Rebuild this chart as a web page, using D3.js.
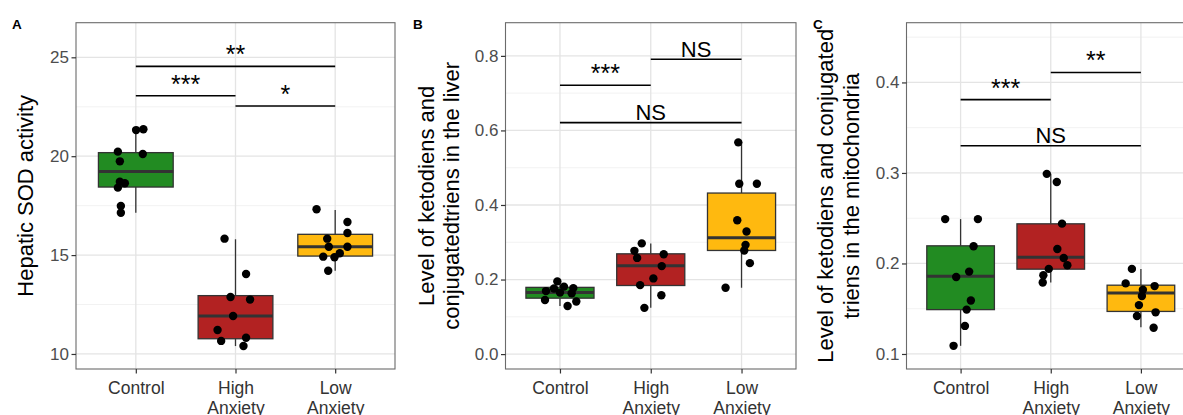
<!DOCTYPE html>
<html>
<head>
<meta charset="utf-8">
<script src="https://cdn.jsdelivr.net/npm/d3@7"></script>
<style>
body { margin: 0; background: #fff; }
text { font-family: "Liberation Sans", Arial, sans-serif; }
</style>
</head>
<body>
<svg id="chart" width="1183" height="415"></svg>
<script>
var groups = ["Control", "High Anxiety", "Low Anxiety"];
var groupFill = ["#228B22", "#B22222", "#FFB90F"];

// A - hepatic SOD activity
var sodPoints = [
  [21.32, 21.36, 20.23, 20.11, 19.74, 18.71, 18.63, 18.41, 17.48, 17.14],
  [15.83, 14.04, 12.88, 12.75, 11.92, 11.21, 10.66, 10.82, 10.40],
  [17.32, 16.67, 16.12, 15.83, 15.42, 15.42, 14.92, 14.89, 15.09, 14.21]
];
var sodJitter = [
  [0.003, 0.076, -0.18, 0.07, -0.16, -0.16, -0.11, -0.18, -0.15, -0.15],
  [-0.11, 0.106, -0.05, 0.146, -0.024, -0.18, -0.144, 0.106, 0.08],
  [-0.187, 0.123, 0.123, -0.08, -0.064, 0.123, -0.12, -0.007, 0.046, -0.07]
];
// whisker low, q1, median, q3, whisker high
var sodBoxes = [
  [17.14, 18.44, 19.22, 20.18, 21.36],
  [10.40, 10.77, 11.92, 12.95, 15.80],
  [14.21, 14.95, 15.42, 16.05, 17.28]
];
var sodTicks = [10, 15, 20, 25];
var sodSig = [
  ["Control", "Low Anxiety", 24.54, "**"],
  ["Control", "High Anxiety", 23.06, "***"],
  ["High Anxiety", "Low Anxiety", 22.54, "*"]
];

// B - ketodiens / conjugated triens, liver
var liverPoints = [
  [0.195, 0.169, 0.176, 0.181, 0.177, 0.165, 0.163, 0.145, 0.141, 0.129],
  [0.297, 0.277, 0.258, 0.268, 0.236, 0.203, 0.185, 0.158, 0.124],
  [0.568, 0.457, 0.457, 0.359, 0.329, 0.293, 0.278, 0.244, 0.178]
];
var liverJitter = [
  [-0.029, -0.154, -0.066, 0.044, 0.147, 0.0, 0.129, -0.165, 0.18, 0.084],
  [-0.099, -0.18, -0.15, 0.143, 0.121, 0.029, -0.117, 0.117, -0.07],
  [-0.036, -0.025, 0.169, -0.047, 0.055, 0.044, 0.03, 0.092, -0.176]
];
var liverBoxes = [
  [0.129, 0.150, 0.165, 0.179, 0.195],
  [0.124, 0.184, 0.237, 0.269, 0.297],
  [0.178, 0.278, 0.312, 0.432, 0.568]
];
var liverTicks = [0.0, 0.2, 0.4, 0.6, 0.8];
var liverSig = [
  ["Control", "High Anxiety", 0.721, "***"],
  ["High Anxiety", "Low Anxiety", 0.791, "NS"],
  ["Control", "Low Anxiety", 0.621, "NS"]
];

// C - ketodiens / conjugated triens, mitochondria
var mitoPoints = [
  [0.249, 0.249, 0.219, 0.191, 0.185, 0.159, 0.149, 0.131, 0.109],
  [0.299, 0.290, 0.244, 0.216, 0.206, 0.198, 0.194, 0.187, 0.179],
  [0.194, 0.178, 0.175, 0.171, 0.164, 0.154, 0.146, 0.142, 0.129]
];
var mitoJitter = [
  [-0.171, 0.192, 0.144, 0.095, -0.049, 0.114, 0.067, 0.048, -0.078],
  [-0.044, 0.067, 0.125, 0.073, 0.144, 0.184, -0.022, -0.082, -0.089],
  [-0.1, -0.169, 0.152, 0.022, 0.011, -0.022, 0.163, -0.044, 0.141]
];
var mitoBoxes = [
  [0.109, 0.149, 0.186, 0.2195, 0.249],
  [0.179, 0.1937, 0.207, 0.2438, 0.299],
  [0.1295, 0.147, 0.1675, 0.176, 0.194]
];
var mitoTicks = [0.1, 0.2, 0.3, 0.4];
var mitoSig = [
  ["Control", "High Anxiety", 0.381, "***"],
  ["High Anxiety", "Low Anxiety", 0.411, "**"],
  ["Control", "Low Anxiety", 0.330, "NS"]
];

var plotTop = 22.7, plotBottom = 369;

var panels = [
  {letter: "A", letterX: 12, left: 76, right: 395, domain: [9.24, 26.75],
   ticks: sodTicks, fmt: d3.format("d"), points: sodPoints, jitter: sodJitter,
   boxes: sodBoxes, sig: sodSig, title: ["Hepatic SOD activity"], titleX: [33]},
  {letter: "B", letterX: 413, left: 505.5, right: 796, domain: [-0.04, 0.889],
   ticks: liverTicks, fmt: d3.format(".1f"), points: liverPoints, jitter: liverJitter,
   boxes: liverBoxes, sig: liverSig,
   title: ["Level of ketodiens and", "conjugatedtriens in the liver"], titleX: [434, 459]},
  {letter: "C", letterX: 813, left: 906.5, right: 1195, domain: [0.0834, 0.466],
   ticks: mitoTicks, fmt: d3.format(".1f"), points: mitoPoints, jitter: mitoJitter,
   boxes: mitoBoxes, sig: mitoSig,
   title: ["Level of ketodiens and conjugated", "triens in the mitochondria"], titleX: [833, 859]}
];

var svg = d3.select("#chart");
svg.append("rect").attr("width", 1183).attr("height", 415).attr("fill", "#fff");

panels.forEach(drawPanel);

function drawPanel(p) {
  var x = d3.scalePoint().domain(groups).range([p.left, p.right]).padding(0.6);
  var step = x.step();
  var bw = step * 0.75;
  var y = d3.scaleLinear().domain(p.domain).range([plotBottom, plotTop]);
  var g = svg.append("g");

  g.append("text")
    .attr("x", p.letterX).attr("y", 29)
    .attr("font-size", 13.5).attr("font-weight", "bold")
    .text(p.letter);

  // grid
  var tickStep = p.ticks[1] - p.ticks[0];
  var minor = [];
  for (var i = -1; i < p.ticks.length; i++) {
    var m = p.ticks[0] + (i + 0.5) * tickStep;
    if (m > p.domain[0] && m < p.domain[1]) minor.push(m);
  }
  g.selectAll(".minor").data(minor).enter().append("line")
    .attr("x1", p.left).attr("x2", p.right)
    .attr("y1", function(d) { return y(d); }).attr("y2", function(d) { return y(d); })
    .attr("stroke", "#f1f1f1").attr("stroke-width", 0.9);
  g.selectAll(".major").data(p.ticks).enter().append("line")
    .attr("x1", p.left).attr("x2", p.right)
    .attr("y1", function(d) { return y(d); }).attr("y2", function(d) { return y(d); })
    .attr("stroke", "#e4e4e4").attr("stroke-width", 1.3);
  g.selectAll(".vgrid").data(groups).enter().append("line")
    .attr("x1", function(d) { return x(d); }).attr("x2", function(d) { return x(d); })
    .attr("y1", plotTop).attr("y2", plotBottom)
    .attr("stroke", "#e4e4e4").attr("stroke-width", 1.3);

  // whiskers
  p.boxes.forEach(function(b, i) {
    var cx = x(groups[i]);
    g.append("line").attr("x1", cx).attr("x2", cx)
      .attr("y1", y(b[3])).attr("y2", y(b[4]))
      .attr("stroke", "#333").attr("stroke-width", 1.3);
    g.append("line").attr("x1", cx).attr("x2", cx)
      .attr("y1", y(b[1])).attr("y2", y(b[0]))
      .attr("stroke", "#333").attr("stroke-width", 1.3);
  });

  // boxes
  g.selectAll(".box").data(p.boxes).enter().append("rect")
    .attr("x", function(d, i) { return x(groups[i]) - bw / 2; })
    .attr("y", function(d) { return y(d[3]); })
    .attr("width", bw)
    .attr("height", function(d) { return y(d[1]) - y(d[3]); })
    .attr("fill", function(d, i) { return groupFill[i]; })
    .attr("stroke", "#333").attr("stroke-width", 1.3);
  g.selectAll(".median").data(p.boxes).enter().append("line")
    .attr("x1", function(d, i) { return x(groups[i]) - bw / 2; })
    .attr("x2", function(d, i) { return x(groups[i]) + bw / 2; })
    .attr("y1", function(d) { return y(d[2]); })
    .attr("y2", function(d) { return y(d[2]); })
    .attr("stroke", "#333").attr("stroke-width", 3);

  // jittered points
  var pts = [];
  p.points.forEach(function(vals, i) {
    vals.forEach(function(v, j) {
      pts.push({g: groups[i], v: v, dx: p.jitter[i][j]});
    });
  });
  g.selectAll(".pt").data(pts).enter().append("circle")
    .attr("cx", function(d) { return x(d.g) + d.dx * step; })
    .attr("cy", function(d) { return y(d.v); })
    .attr("r", 4.2)
    .attr("fill", "#000");

  // significance brackets
  p.sig.forEach(function(s) {
    var x1 = x(s[0]), x2 = x(s[1]), yy = y(s[2]);
    g.append("line").attr("x1", x1).attr("x2", x2).attr("y1", yy).attr("y2", yy)
      .attr("stroke", "#000").attr("stroke-width", 1.6);
    var star = s[3] !== "NS";
    g.append("text")
      .attr("x", (x1 + x2) / 2).attr("y", yy - (star ? 3 : 2.5))
      .attr("text-anchor", "middle")
      .attr("font-size", star ? 25 : 22)
      .attr("fill", "#000")
      .text(s[3]);
  });

  // panel border
  g.append("rect")
    .attr("x", p.left).attr("y", plotTop)
    .attr("width", p.right - p.left).attr("height", plotBottom - plotTop)
    .attr("fill", "none").attr("stroke", "#6b6b6b").attr("stroke-width", 1.1);

  // axes
  var yAxis = g.append("g")
    .attr("transform", "translate(" + p.left + ",0)")
    .call(d3.axisLeft(y).tickValues(p.ticks).tickFormat(p.fmt).tickSize(4.5).tickPadding(2.5));
  yAxis.select(".domain").remove();
  yAxis.selectAll(".tick line").attr("stroke", "#333").attr("stroke-width", 1.2);
  yAxis.selectAll(".tick text")
    .attr("font-size", 17).attr("fill", "#4d4d4d")
    .attr("font-family", "Liberation Sans, Arial, sans-serif");

  var xAxis = g.append("g")
    .attr("transform", "translate(0," + plotBottom + ")")
    .call(d3.axisBottom(x).tickSize(4.5));
  xAxis.select(".domain").remove();
  xAxis.selectAll(".tick line").attr("stroke", "#333").attr("stroke-width", 1.2);
  xAxis.selectAll(".tick text").each(function(d) {
    var t = d3.select(this);
    t.text(null).attr("y", 25.3).attr("dy", null)
      .attr("font-size", 17.5).attr("fill", "#333")
      .attr("font-family", "Liberation Sans, Arial, sans-serif");
    d.split(" ").forEach(function(w, k) {
      t.append("tspan").attr("x", 0).attr("dy", k === 0 ? 0 : 20).text(w);
    });
  });

  // y title
  var cy = (plotTop + plotBottom) / 2;
  p.title.forEach(function(line, k) {
    g.append("text")
      .attr("transform", "translate(" + p.titleX[k] + "," + cy + ") rotate(-90)")
      .attr("text-anchor", "middle")
      .attr("font-size", 22)
      .attr("fill", "#000")
      .text(line);
  });
}
</script>
</body>
</html>
